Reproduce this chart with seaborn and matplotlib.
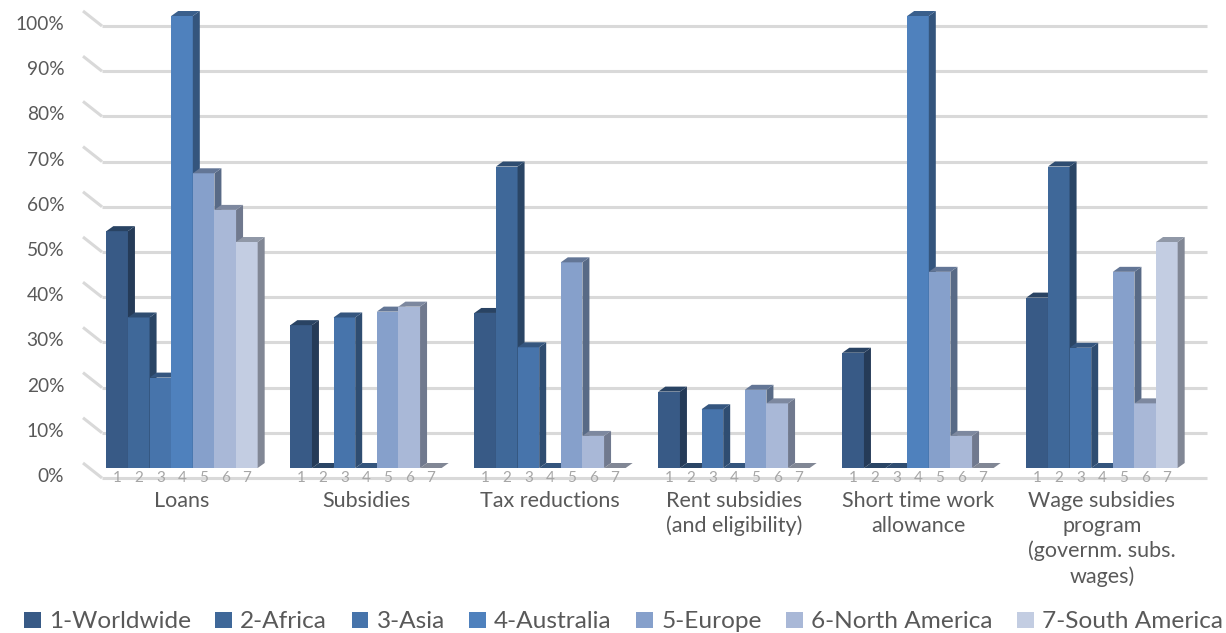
import numpy as np
import pandas as pd
import matplotlib
matplotlib.use("Agg")
import matplotlib.pyplot as plt
from matplotlib.patches import Polygon, Patch
from matplotlib.lines import Line2D
from matplotlib.transforms import ScaledTranslation
import seaborn as sns

# ---- data -----------------------------------------------------------------
categories = [
    "Loans",
    "Subsidies",
    "Tax reductions",
    "Rent subsidies\n(and eligibility)",
    "Short time work\nallowance",
    "Wage subsidies\nprogram\n(governm. subs.\nwages)",
]
regions = ["1-Worldwide", "2-Africa", "3-Asia", "4-Australia",
           "5-Europe", "6-North America", "7-South America"]
region_ticks = ["1", "2", "3", "4", "5", "6", "7"]

loans = [52.4, 33.3, 20.0, 100.0, 65.2, 57.1, 50.0]
subsidies = [31.6, 0.0, 33.3, 0.0, 34.6, 35.7, 0.0]
tax_reductions = [34.3, 66.7, 26.7, 0.0, 45.5, 7.1, 0.0]
rent_subsidies = [16.9, 0.0, 13.0, 0.0, 17.3, 14.3, 0.0]
short_time_work = [25.5, 0.0, 0.0, 100.0, 43.4, 7.1, 0.0]
wage_subsidies = [37.7, 66.7, 26.6, 0.0, 43.4, 14.3, 50.0]

y_ticks = [0, 10, 20, 30, 40, 50, 60, 70, 80, 90, 100]

palette = ["#385a86", "#3f6899", "#4774ab", "#4f81bd",
           "#86a0cb", "#a9b8d7", "#c3cde2"]

rows = [loans, subsidies, tax_reductions, rent_subsidies,
        short_time_work, wage_subsidies]
df = pd.DataFrame(
    [(c, r, v) for c, vals in zip(categories, rows) for r, v in zip(regions, vals)],
    columns=["measure", "region", "share"],
)

# ---- figure ---------------------------------------------------------------
sns.set_theme(style="white")
plt.rcParams["font.family"] = ["Lato", "DejaVu Sans"]
TEXT = "#595959"
GRID = "#d9d9d9"

W, H, DPI = 1226, 633, 100
fig = plt.figure(figsize=(W / DPI, H / DPI), dpi=DPI)
ax_l, ax_b, ax_w, ax_h = 90, 165, 1104, 452
ax = fig.add_axes([ax_l / W, ax_b / H, ax_w / W, ax_h / H])

sns.barplot(data=df, x="measure", y="share", hue="region", palette=palette,
            width=0.8225, saturation=1, linewidth=0, edgecolor="none",
            legend=False, ax=ax)

ax.set_xlim(-0.5, len(categories) - 0.5)
ax.set_ylim(0, 100)
for s in ax.spines.values():
    s.set_visible(False)
ax.set_xlabel("")
ax.set_ylabel("")

# data units per pixel
sx = (len(categories)) / ax_w
sy = 100.0 / ax_h

# back wall gridlines + left floor/wall diagonals
x0, x1 = ax.get_xlim()
for v in y_ticks:
    ax.add_line(Line2D([x0 + 12 * sx, x1 + 13 * sx], [v - 10 * sy, v - 10 * sy],
                       color=GRID, lw=2.2, zorder=1, clip_on=False,
                       solid_capstyle="butt"))
    ax.add_line(Line2D([x0 - 7 * sx, x0 + 12 * sx], [v + 5 * sy, v - 10 * sy],
                       color=GRID, lw=2.2, zorder=1, clip_on=False,
                       solid_capstyle="butt"))


def shade(color, f):
    r, g, b = matplotlib.colors.to_rgb(color)
    return (r * f, g * f, b * f)


# extruded sides and tops of each bar
ddx, ddy = 7 * sx, 5 * sy
n_reg = len(regions)
for j, cont in enumerate(ax.containers):
    side_c = shade(palette[j], 0.66)
    top_c = shade(palette[j], 0.74)
    for i, bar in enumerate(cont.patches):
        k = i * n_reg + j
        z = 3 + k * 0.01
        bar.set_zorder(z)
        bar.set_clip_on(False)
        bx, bw, bh = bar.get_x(), bar.get_width(), bar.get_height()
        if bh > 0:
            side = Polygon([(bx + bw, 0), (bx + bw, bh), (bx + bw + ddx, bh + ddy),
                            (bx + bw + ddx, ddy)], closed=True, facecolor=side_c,
                           edgecolor="none", zorder=z + 0.005, clip_on=False)
            ax.add_patch(side)
        top = Polygon([(bx, bh), (bx + bw, bh), (bx + bw + ddx, bh + ddy),
                       (bx + ddx, bh + ddy)], closed=True,
                      facecolor=top_c if bh > 0 else side_c,
                      edgecolor="none", zorder=z + 0.006, clip_on=False)
        ax.add_patch(top)
        # series number under each bar
        ax.text(bx + bw / 2, -3 * sy, region_ticks[j], ha="center", va="top",
                fontsize=11, color="#a6a6a6", zorder=5)

# axis tick labels
ax.set_yticks(y_ticks)
ax.set_yticklabels([f"{v}%" for v in y_ticks])
ax.tick_params(axis="y", length=0, pad=18.5, labelsize=13.8, labelcolor=TEXT)
ax.tick_params(axis="x", length=0, pad=16.5, labelsize=15.5, labelcolor=TEXT)
ax.grid(False)
shift_down = ScaledTranslation(0, -5 / 72, fig.dpi_scale_trans)
for lab in ax.get_yticklabels():
    lab.set_transform(lab.get_transform() + shift_down)
for lab in ax.get_xticklabels():
    lab.set_linespacing(1.3)

# legend
handles = [Patch(facecolor=c, edgecolor="none") for c in palette]
fig.legend(handles, regions, loc="center", bbox_to_anchor=(0.5085, 11 / H),
           ncol=7, frameon=False, fontsize=17.6, labelcolor=TEXT,
           handlelength=0.68, handleheight=0.68, handletextpad=0.34,
           columnspacing=1.0, borderaxespad=0, borderpad=0)

fig.savefig("out.png", dpi=DPI)
